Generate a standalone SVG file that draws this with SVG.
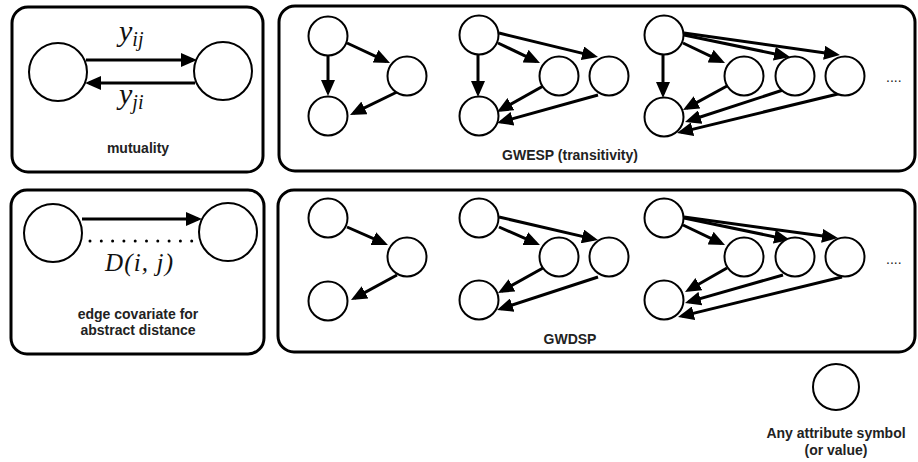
<svg xmlns="http://www.w3.org/2000/svg" width="918" height="462" viewBox="0 0 918 462">
  <defs>
    <marker id="arrow" markerUnits="userSpaceOnUse" markerWidth="16" markerHeight="14" refX="12" refY="7" orient="auto">
      <path d="M0,0 L16,7 L0,14 Z" fill="#000"/>
    </marker>
  </defs>
  <style>
    .panel { fill: #fff; stroke: #000; stroke-width: 3; }
    .node { fill: #fff; stroke: #000; stroke-width: 2; }
    .edge { fill: none; stroke: #000; stroke-width: 3; marker-end: url(#arrow); }
    .label { font-family: "Liberation Sans", Arial, sans-serif; font-weight: bold; font-size: 14px; fill: #222; text-anchor: middle; }
    .math { font-family: "Liberation Serif", "Times New Roman", serif; font-style: italic; fill: #111; }
    .dots { font-family: "Liberation Sans", Arial, sans-serif; font-size: 14px; fill: #222; }
  </style>
  <rect width="918" height="462" fill="#fff"/>

  <!-- panels -->
  <g id="panel-mutuality"><rect class="panel" x="12" y="7" width="251" height="165" rx="16"/></g>
  <g id="panel-gwesp"><rect class="panel" x="279" y="6" width="636" height="165" rx="16"/></g>
  <g id="panel-distance"><rect class="panel" x="11" y="190" width="253" height="164" rx="16"/></g>
  <g id="panel-gwdsp"><rect class="panel" x="278" y="190" width="637" height="162" rx="16"/></g>

  <!-- connectors -->
  <g id="connectors">
    <!-- mutuality -->
    <path class="edge" d="M86,60 L193,60"/>
    <path class="edge" d="M195,83 L89,83"/>
    <!-- edge covariate -->
    <path class="edge" d="M82,219 L198,219"/>
    <line x1="90" y1="241" x2="192" y2="241" stroke="#000" stroke-width="3" stroke-linecap="round" stroke-dasharray="0 11.3"/>

    <!-- GWESP group 1 -->
    <path class="edge" d="M328,55 L328,92"/>
    <path class="edge" d="M347,43 L386.4,61.3"/>
    <path class="edge" d="M397,92 L353.6,113.2"/>
    <!-- GWESP group 2 -->
    <path class="edge" d="M478,53 L478,93"/>
    <path class="edge" d="M498,43 L536.4,61.3"/>
    <path class="edge" d="M499,33 L594.1,56.1"/>
    <path class="edge" d="M545,85 L500.5,110"/>
    <path class="edge" d="M598,95 L500.9,121.9"/>
    <!-- GWESP group 3 -->
    <path class="edge" d="M663,53 L663,94"/>
    <path class="edge" d="M683,43 L721.4,61.3"/>
    <path class="edge" d="M684,35 L786.1,56.2"/>
    <path class="edge" d="M684,33 L836,54.4"/>
    <path class="edge" d="M727,86 L686.5,108.1"/>
    <path class="edge" d="M783,90 L688.8,120.8"/>
    <path class="edge" d="M842,93 L680.9,132.1"/>

    <!-- GWDSP group 1 -->
    <path class="edge" d="M347,227 L384.3,243.4"/>
    <path class="edge" d="M397,275 L354.5,298.1"/>
    <!-- GWDSP group 2 -->
    <path class="edge" d="M499,227 L536.3,243.4"/>
    <path class="edge" d="M499,217 L594.1,239.1"/>
    <path class="edge" d="M543,268 L501.5,291.1"/>
    <path class="edge" d="M598,277 L500.8,308.8"/>
    <!-- GWDSP group 3 -->
    <path class="edge" d="M683,225 L721.4,243.3"/>
    <path class="edge" d="M684,218 L786.1,239.2"/>
    <path class="edge" d="M684,217 L834,237.5"/>
    <path class="edge" d="M727,268 L688.5,290"/>
    <path class="edge" d="M783,275 L688.8,301.9"/>
    <path class="edge" d="M842,277 L681.9,316.1"/>
  </g>

  <!-- mutuality nodes -->
  <g id="mut-i"><circle class="node" cx="58" cy="72" r="29"/></g>
  <g id="mut-j"><circle class="node" cx="223" cy="71" r="29"/></g>
  <text class="math" x="119" y="41" font-size="30">y<tspan font-size="20" dy="5">ij</tspan></text>
  <text class="math" x="119" y="104" font-size="30">y<tspan font-size="20" dy="5">ji</tspan></text>
  <text class="label" x="138" y="153">mutuality</text>

  <!-- distance nodes -->
  <g id="dist-i"><circle class="node" cx="53" cy="233" r="29"/></g>
  <g id="dist-j"><circle class="node" cx="228" cy="232" r="29"/></g>
  <text class="math" x="105" y="271" font-size="25" textLength="68" lengthAdjust="spacing">D(i, j)</text>
  <text class="label" x="138" y="319">edge covariate for</text>
  <text class="label" x="138" y="335">abstract distance</text>

  <!-- GWESP nodes -->
  <g id="esp1-a"><circle class="node" cx="328" cy="36" r="19.5"/></g>
  <g id="esp1-b"><circle class="node" cx="407" cy="76" r="19.5"/></g>
  <g id="esp1-c"><circle class="node" cx="328" cy="116" r="19.5"/></g>

  <g id="esp2-a"><circle class="node" cx="479" cy="35" r="19.5"/></g>
  <g id="esp2-b"><circle class="node" cx="559" cy="76" r="19.5"/></g>
  <g id="esp2-c"><circle class="node" cx="609" cy="76" r="19.5"/></g>
  <g id="esp2-d"><circle class="node" cx="479" cy="116" r="19.5"/></g>

  <g id="esp3-a"><circle class="node" cx="664" cy="35" r="19.5"/></g>
  <g id="esp3-b"><circle class="node" cx="744" cy="76" r="19.5"/></g>
  <g id="esp3-c"><circle class="node" cx="795" cy="76" r="19.5"/></g>
  <g id="esp3-d"><circle class="node" cx="845" cy="76" r="19.5"/></g>
  <g id="esp3-e"><circle class="node" cx="664" cy="117" r="19.5"/></g>
  <text class="dots" x="886" y="82">....</text>
  <text class="label" x="570" y="160">GWESP (transitivity)</text>

  <!-- GWDSP nodes -->
  <g id="dsp1-a"><circle class="node" cx="328" cy="218" r="19.5"/></g>
  <g id="dsp1-b"><circle class="node" cx="407" cy="257" r="19.5"/></g>
  <g id="dsp1-c"><circle class="node" cx="328" cy="301" r="19.5"/></g>

  <g id="dsp2-a"><circle class="node" cx="479" cy="218" r="19.5"/></g>
  <g id="dsp2-b"><circle class="node" cx="559" cy="257" r="19.5"/></g>
  <g id="dsp2-c"><circle class="node" cx="609" cy="257" r="19.5"/></g>
  <g id="dsp2-d"><circle class="node" cx="479" cy="300" r="19.5"/></g>

  <g id="dsp3-a"><circle class="node" cx="664" cy="218" r="19.5"/></g>
  <g id="dsp3-b"><circle class="node" cx="744" cy="257" r="19.5"/></g>
  <g id="dsp3-c"><circle class="node" cx="795" cy="257" r="19.5"/></g>
  <g id="dsp3-d"><circle class="node" cx="845" cy="257" r="19.5"/></g>
  <g id="dsp3-e"><circle class="node" cx="664" cy="300" r="19.5"/></g>
  <text class="dots" x="886" y="264">....</text>
  <text class="label" x="570" y="344">GWDSP</text>

  <!-- legend -->
  <g id="legend-attribute"><circle class="node" cx="836" cy="387" r="23"/></g>
  <text class="label" x="836" y="438">Any attribute symbol</text>
  <text class="label" x="836" y="455">(or value)</text>
</svg>
